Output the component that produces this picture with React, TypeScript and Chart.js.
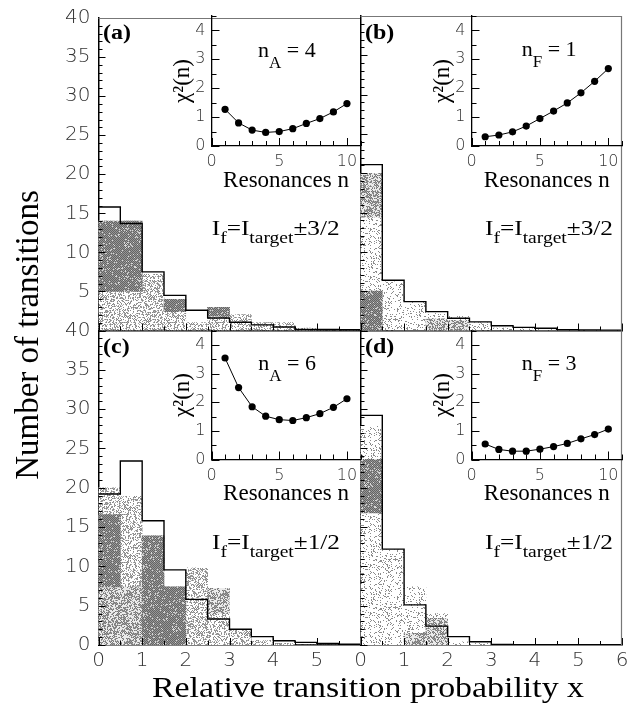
import React, { useEffect, useRef } from "react";
import { Chart, registerables } from "chart.js";

Chart.register(...registerables);

// ---------------- data ----------------
const binLefts = [0, 0.5, 1, 1.5, 2, 2.5, 3, 3.5, 4, 4.5, 5, 5.5];
const BIN_W = 0.5;
const X_MAX = 6;
const Y_MAX = 40;

// (a) I_f = I_target ± 3/2, n_A = 4
const stepA = [15.8, 13.7, 7.5, 4.5, 2.6, 1.6, 1.05, 0.72, 0.45, 0.15, 0.15, 0.1];
const lightA = [14, 14, 7.2, 4.0, 1.0, 2.95, 2.05, 1.0, 1.0, 0.3, 0, 0];
const midA = [null, null, null, null, null, null, null, null, null, null, null, null];
const darkA = [[5, 14], [5, 14], null, [2.4, 4.0], null, [1.85, 2.95], null, null, null, null, null, null];

// (b) I_f = I_target ± 3/2, n_F = 1
const stepB = [21.1, 6.4, 3.67, 2.4, 1.55, 1.1, 0.6, 0.4, 0.28, 0.1, 0.08, 0.05];
const lightB = [20.0, 6.2, 3.6, 2.2, 1.8, 1.0, 0.3, 0.2, 0.2, 0.1, 0, 0];
const midB = [[14.4, 20.0], null, null, [0, 1.5], [0, 1.3], null, null, null, null, null, null, null];
const darkB = [[0, 5.0], null, null, null, null, null, null, null, null, null, null, null];

// (c) I_f = I_target ± 1/2, n_A = 6
const stepC = [19.2, 23.4, 15.8, 9.55, 5.8, 3.3, 2.0, 1.06, 0.55, 0.34, 0.2, 0.1];
const lightC = [20.0, 18.9, 13.9, 7.4, 9.8, 7.2, 1.9, 0.6, 0.2, 0, 0, 0];
const midC = [[0, 7.4], [0, 7.4], null, null, null, [4.0, 7.2], null, null, null, null, null, null];
const darkC = [[7.4, 16.6], null, [0, 13.9], [0, 7.4], null, null, null, null, null, null, null, null];

// (d) I_f = I_target ± 1/2, n_F = 3
const stepD = [29.2, 12.2, 5.1, 2.4, 1.06, 0.42, 0.08, 0.05, 0.05, 0.05, 0.05, 0.05];
const lightD = [27.8, 12.1, 7.4, 4.0, 0.4, 0.2, 0, 0, 0, 0, 0, 0];
const midD = [null, null, [0, 1.5], [0, 3.4], null, null, null, null, null, null, null, null];
const darkD = [[16.8, 23.6], null, null, null, null, null, null, null, null, null, null, null];

// insets: chi^2 versus number of resonances
const resonances = [1, 2, 3, 4, 5, 6, 7, 8, 9, 10];
const chiA = [1.27, 0.8, 0.55, 0.47, 0.5, 0.6, 0.78, 0.95, 1.18, 1.47];
const chiB = [0.32, 0.38, 0.49, 0.69, 0.95, 1.21, 1.49, 1.84, 2.24, 2.68];
const chiC = [3.54, 2.51, 1.84, 1.51, 1.39, 1.36, 1.46, 1.6, 1.82, 2.12];
const chiD = [0.54, 0.35, 0.29, 0.29, 0.36, 0.45, 0.56, 0.72, 0.87, 1.06];

// tick labels
const yTicksTop = [5, 10, 15, 20, 25, 30, 35, 40];
const yTicksBottom = [0, 5, 10, 15, 20, 25, 30, 35, 40];
const xTicksLeft = [0, 1, 2, 3, 4, 5];
const xTicksRight = [0, 1, 2, 3, 4, 5, 6];
const insetXTicks = [0, 5, 10];
const insetYTicks = [0, 1, 2, 3, 4];
const INSET_X_MAX = 11;
const INSET_Y_MAX = 4.5;

// texts
const yTitle = "Number of transitions";
const xTitle = "Relative transition probability x";
const insetXTitle = "Resonances n";
const insetYTitle = "χ²(n)";
const panelLetters = ["(a)", "(b)", "(c)", "(d)"];
const nLabels = [["n", "A", " = 4"], ["n", "F", " = 1"], ["n", "A", " = 6"], ["n", "F", " = 3"]];
const spinLabels = [
  ["I", "f", "=I", "target", "±3/2"],
  ["I", "f", "=I", "target", "±3/2"],
  ["I", "f", "=I", "target", "±1/2"],
  ["I", "f", "=I", "target", "±1/2"],
];

// ---------------- layout / style ----------------
const CW = 634;
const CH = 717;
const X0 = 98.5, X1 = 360.5, X2 = 622;
const Y0 = 16, Y1 = 330.5, Y2 = 645;
const SERIF = '"Liberation Serif", "Times New Roman", serif';
const SANS = '"DejaVu Sans", sans-serif';

function noise(x: number, y: number, s: number) {
  let h = (x * 374761393 + y * 668265263 + s * 982451653) | 0;
  h = Math.imul(h ^ (h >>> 13), 1274126177);
  h = h ^ (h >>> 16);
  return (h >>> 0) / 4294967296;
}

let patCache: any = null;
function getPatterns() {
  if (patCache) return patCache;
  const mk = (fn: (x: number, y: number) => number) => {
    const N = 48;
    const c = document.createElement("canvas");
    c.width = N;
    c.height = N;
    const g = c.getContext("2d")!;
    const img = g.createImageData(N, N);
    for (let y = 0; y < N; y++)
      for (let x = 0; x < N; x++) {
        const v = fn(x, y);
        const k = (y * N + x) * 4;
        img.data[k] = v;
        img.data[k + 1] = v;
        img.data[k + 2] = v;
        img.data[k + 3] = 255;
      }
    g.putImageData(img, 0, 0);
    return g.createPattern(c, "repeat")!;
  };
  patCache = {
    dark: mk((x, y) => (noise(x, y, 1) < 0.12 ? 215 : (x + y) % 2 === 0 ? 100 : 150)),
    mid: mk((x, y) => (noise(x, y, 2) < 0.55 ? ((x + y) % 2 === 0 ? 120 : 155) : 235)),
    med: mk((x, y) => (noise(x, y, 3) < 0.42 ? ((x + y) % 2 === 0 ? 135 : 170) : 255)),
    sparse: mk((x, y) => (noise(x, y, 4) < 0.17 ? 140 : 255)),
  };
  return patCache;
}

type TickSpec = { minor: number; major: number; minorLen: number; majorLen: number };
function makeInnerTicks(xs: TickSpec, ys: TickSpec) {
  return {
    id: "innerTicks",
    afterDraw(chart: any) {
      const { ctx, chartArea: a, scales } = chart;
      ctx.save();
      ctx.strokeStyle = "#000";
      ctx.lineWidth = 1;
      const draw = (scale: any, spec: TickSpec, horizontal: boolean) => {
        const n = Math.round((scale.max - scale.min) / spec.minor);
        for (let i = 0; i <= n; i++) {
          const v = scale.min + i * spec.minor;
          const r = v / spec.major;
          const isMajor = Math.abs(r - Math.round(r)) < 1e-6;
          const len = isMajor ? spec.majorLen : spec.minorLen;
          const p = Math.round(scale.getPixelForValue(v)) + 0.5;
          ctx.beginPath();
          if (horizontal) {
            ctx.moveTo(p, a.bottom);
            ctx.lineTo(p, a.bottom - len);
          } else {
            ctx.moveTo(a.left, p);
            ctx.lineTo(a.left + len, p);
          }
          ctx.stroke();
        }
      };
      draw(scales.x, xs, true);
      draw(scales.y, ys, false);
      ctx.restore();
    },
  };
}

function makeFrame(top: boolean, right: boolean) {
  return {
    id: "frame",
    afterDraw(chart: any) {
      const { ctx, chartArea: a } = chart;
      ctx.save();
      ctx.strokeStyle = "#777";
      ctx.lineWidth = 1.2;
      ctx.beginPath();
      if (top) {
        ctx.moveTo(a.left, a.top + 0.5);
        ctx.lineTo(a.right, a.top + 0.5);
      }
      if (right) {
        ctx.moveTo(a.right - 0.5, a.top);
        ctx.lineTo(a.right - 0.5, a.bottom);
      }
      ctx.stroke();
      ctx.restore();
    },
  };
}

type Part = { t: string; size: number; dy?: number; bold?: boolean };
type TextItem = { x: number; y: number; parts: Part[]; stretch?: number; rotate?: number; center?: boolean };
function makeTexts(items: TextItem[]) {
  return {
    id: "texts",
    afterDraw(chart: any) {
      const ctx = chart.ctx;
      for (const it of items) {
        ctx.save();
        ctx.translate(it.x, it.y);
        if (it.rotate) ctx.rotate(it.rotate);
        ctx.scale(it.stretch || 1, 1);
        ctx.fillStyle = "#000";
        ctx.textBaseline = "alphabetic";
        ctx.textAlign = "left";
        const f = (p: Part) => `${p.bold ? "bold " : ""}${p.size}px ${SERIF}`;
        let total = 0;
        for (const p of it.parts) {
          ctx.font = f(p);
          total += ctx.measureText(p.t).width;
        }
        let cx = it.center ? -total / 2 : 0;
        for (const p of it.parts) {
          ctx.font = f(p);
          ctx.fillText(p.t, cx, p.dy || 0);
          cx += ctx.measureText(p.t).width;
        }
        ctx.restore();
      }
    },
  };
}

type PanelSpec = {
  area: { l: number; r: number; t: number; b: number };
  step: number[];
  light: number[];
  mid: (number[] | null)[];
  dark: (number[] | null)[];
  lightKind: string;
  yTicks: number[];
  xTicks: number[];
  showY: boolean;
  showX: boolean;
  frameTop: boolean;
  frameRight: boolean;
  texts: TextItem[];
};

function letterItem(i: number, x: number, y: number): TextItem {
  return { x, y, parts: [{ t: panelLetters[i], size: 20, bold: true }], stretch: 1.2 };
}
function nItem(i: number, x: number, y: number): TextItem {
  const [a, b, c] = nLabels[i];
  return { x, y, parts: [{ t: a, size: 22 }, { t: b, size: 17, dy: 11 }, { t: c, size: 22 }] };
}
function spinItem(i: number, x: number, y: number): TextItem {
  const [a, b, c, d, e] = spinLabels[i];
  return {
    x,
    y,
    stretch: 1.15,
    parts: [
      { t: a, size: 22 },
      { t: b, size: 17, dy: 8 },
      { t: c, size: 22 },
      { t: d, size: 17, dy: 8 },
      { t: e, size: 22 },
    ],
  };
}

const tickFont = { family: SANS, size: 20, weight: "200" as any, lineHeight: 1 };
const insetTickFont = { family: SANS, size: 16, weight: "200" as any, lineHeight: 1 };

function panelConfig(p: PanelSpec) {
  const pats = getPatterns();
  const centers = binLefts.map((l) => l + BIN_W / 2);
  const barDs = (vals: any[], pattern: any, order: number) => ({
    type: "bar",
    data: centers.map((x, i) => ({ x, y: vals[i] })),
    backgroundColor: pattern,
    borderWidth: 0,
    grouped: false,
    barPercentage: 1,
    categoryPercentage: 1,
    order,
  });
  const stepPts = binLefts
    .map((l, i) => ({ x: l, y: p.step[i] }))
    .concat([{ x: X_MAX, y: p.step[p.step.length - 1] }]);
  const Wy = 40;
  const Hx = 40;
  return {
    type: "line",
    data: {
      datasets: [
        {
          type: "line",
          data: stepPts,
          stepped: "before",
          borderColor: "#000",
          borderWidth: 1.4,
          pointRadius: 0,
          fill: false,
          order: 0,
        },
        barDs(p.dark, pats.dark, 1),
        barDs(p.mid, pats.mid, 2),
        barDs(p.light, pats[p.lightKind], 3),
      ],
    },
    options: {
      animation: false,
      responsive: false,
      events: [],
      layout: {
        padding: { left: p.area.l - Wy, top: p.area.t, right: CW - p.area.r, bottom: CH - p.area.b - Hx },
      },
      plugins: { legend: { display: false }, tooltip: { enabled: false } },
      scales: {
        x: {
          type: "linear",
          min: 0,
          max: X_MAX,
          offset: false,
          afterBuildTicks: (s: any) => {
            s.ticks = p.xTicks.map((v) => ({ value: v }));
          },
          afterFit: (s: any) => {
            s.height = Hx;
          },
          grid: { display: false, drawTicks: false },
          border: { display: true, color: "#000", width: 1.5 },
          ticks: { display: p.showX, font: tickFont, color: "#333", padding: 5.5, maxRotation: 0, autoSkip: false },
        },
        y: {
          type: "linear",
          min: 0,
          max: Y_MAX,
          afterBuildTicks: (s: any) => {
            s.ticks = p.yTicks.map((v) => ({ value: v }));
          },
          afterFit: (s: any) => {
            s.width = Wy;
          },
          grid: { display: false, drawTicks: false },
          border: { display: true, color: "#000", width: 1.5 },
          ticks: { display: p.showY, font: tickFont, color: "#333", padding: 8, autoSkip: false },
        },
      },
    },
    plugins: [
      makeInnerTicks(
        { minor: 0.5, major: 1, minorLen: 4, majorLen: 7 },
        { minor: 1, major: 5, minorLen: 4, majorLen: 7 }
      ),
      makeFrame(p.frameTop, p.frameRight),
      makeTexts(p.texts),
    ],
  };
}

type InsetSpec = { area: { l: number; r: number; t: number; b: number }; chi: number[] };
function insetConfig(q: InsetSpec) {
  const Wy = 60;
  const Hx = 50;
  return {
    type: "line",
    data: {
      datasets: [
        {
          data: resonances.map((n, i) => ({ x: n, y: q.chi[i] })),
          borderColor: "#000",
          borderWidth: 1,
          pointRadius: 3.6,
          pointBackgroundColor: "#000",
          pointBorderColor: "#000",
          pointBorderWidth: 0,
          tension: 0,
          fill: false,
        },
      ],
    },
    options: {
      animation: false,
      responsive: false,
      events: [],
      layout: { padding: { left: q.area.l - Wy, top: q.area.t, right: CW - q.area.r, bottom: CH - q.area.b - Hx } },
      plugins: { legend: { display: false }, tooltip: { enabled: false } },
      scales: {
        x: {
          type: "linear",
          min: 0,
          max: INSET_X_MAX,
          afterBuildTicks: (s: any) => {
            s.ticks = insetXTicks.map((v) => ({ value: v }));
          },
          afterFit: (s: any) => {
            s.height = Hx;
          },
          grid: { display: false, drawTicks: false },
          border: { display: true, color: "#000", width: 1.3 },
          ticks: { font: insetTickFont, color: "#333", padding: 8, maxRotation: 0, autoSkip: false },
          title: {
            display: true,
            text: insetXTitle,
            color: "#000",
            font: { family: SERIF, size: 23, lineHeight: 1 },
            padding: { top: 0, bottom: 4 },
          },
        },
        y: {
          type: "linear",
          min: 0,
          max: INSET_Y_MAX,
          afterBuildTicks: (s: any) => {
            s.ticks = insetYTicks.map((v) => ({ value: v }));
          },
          afterFit: (s: any) => {
            s.width = Wy;
          },
          grid: { display: false, drawTicks: false },
          border: { display: true, color: "#000", width: 1.3 },
          ticks: { font: insetTickFont, color: "#333", padding: 6, autoSkip: false },
          title: {
            display: true,
            text: insetYTitle,
            color: "#000",
            font: { family: SERIF, size: 23, lineHeight: 1 },
            padding: { top: 19.5, bottom: 0 },
          },
        },
      },
    },
    plugins: [
      makeInnerTicks(
        { minor: 1, major: 5, minorLen: 5, majorLen: 8 },
        { minor: 0.5, major: 1, minorLen: 5, majorLen: 8 }
      ),
    ],
  };
}

const globalTexts: TextItem[] = [
  { x: 38, y: 335, rotate: -Math.PI / 2, center: true, parts: [{ t: yTitle, size: 33 }] },
  { x: 368, y: 697, center: true, stretch: 1.13, parts: [{ t: xTitle, size: 30 }] },
];

const panelSpecs: PanelSpec[] = [
  {
    area: { l: X0, r: X1, t: Y0, b: Y1 },
    step: stepA, light: lightA, mid: midA, dark: darkA, lightKind: "med",
    yTicks: yTicksTop, xTicks: xTicksLeft, showY: true, showX: false, frameTop: true, frameRight: false,
    texts: [letterItem(0, 103, 39), nItem(0, 258, 57), spinItem(0, 211.7, 235), ...globalTexts],
  },
  {
    area: { l: X1, r: X2, t: Y0, b: Y1 },
    step: stepB, light: lightB, mid: midB, dark: darkB, lightKind: "sparse",
    yTicks: yTicksTop, xTicks: xTicksRight, showY: false, showX: false, frameTop: true, frameRight: true,
    texts: [letterItem(1, 365, 39), nItem(1, 521.7, 56), spinItem(1, 485, 235)],
  },
  {
    area: { l: X0, r: X1, t: Y1, b: Y2 },
    step: stepC, light: lightC, mid: midC, dark: darkC, lightKind: "med",
    yTicks: yTicksBottom, xTicks: xTicksLeft, showY: true, showX: true, frameTop: false, frameRight: false,
    texts: [letterItem(2, 103, 353), nItem(2, 258.3, 370), spinItem(2, 212, 549)],
  },
  {
    area: { l: X1, r: X2, t: Y1, b: Y2 },
    step: stepD, light: lightD, mid: midD, dark: darkD, lightKind: "sparse",
    yTicks: yTicksBottom, xTicks: xTicksRight, showY: false, showX: true, frameTop: false, frameRight: true,
    texts: [letterItem(3, 365, 353), nItem(3, 521.7, 370), spinItem(3, 485, 549)],
  },
];

const insetSpecs: InsetSpec[] = [
  { area: { l: 211.5, r: X1, t: Y0, b: 146 }, chi: chiA },
  { area: { l: 471.5, r: X2, t: Y0, b: 146 }, chi: chiB },
  { area: { l: 211.5, r: X1, t: Y1, b: 459.5 }, chi: chiC },
  { area: { l: 471.5, r: X2, t: Y1, b: 459.5 }, chi: chiD },
];

function ChartCanvas({ make }: { make: () => any }) {
  const ref = useRef<HTMLCanvasElement>(null);
  useEffect(() => {
    const chart = new Chart(ref.current as HTMLCanvasElement, make());
    return () => chart.destroy();
  }, []);
  return (
    <canvas
      ref={ref}
      width={CW}
      height={CH}
      style={{ position: "absolute", left: 0, top: 0, width: CW, height: CH }}
    />
  );
}

export default function App() {
  return (
    <div style={{ position: "absolute", left: 0, top: 0, width: CW, height: CH, background: "#fff", overflow: "hidden" }}>
      {panelSpecs.map((p, i) => (
        <ChartCanvas key={"p" + i} make={() => panelConfig(p)} />
      ))}
      {insetSpecs.map((q, i) => (
        <ChartCanvas key={"i" + i} make={() => insetConfig(q)} />
      ))}
    </div>
  );
}
